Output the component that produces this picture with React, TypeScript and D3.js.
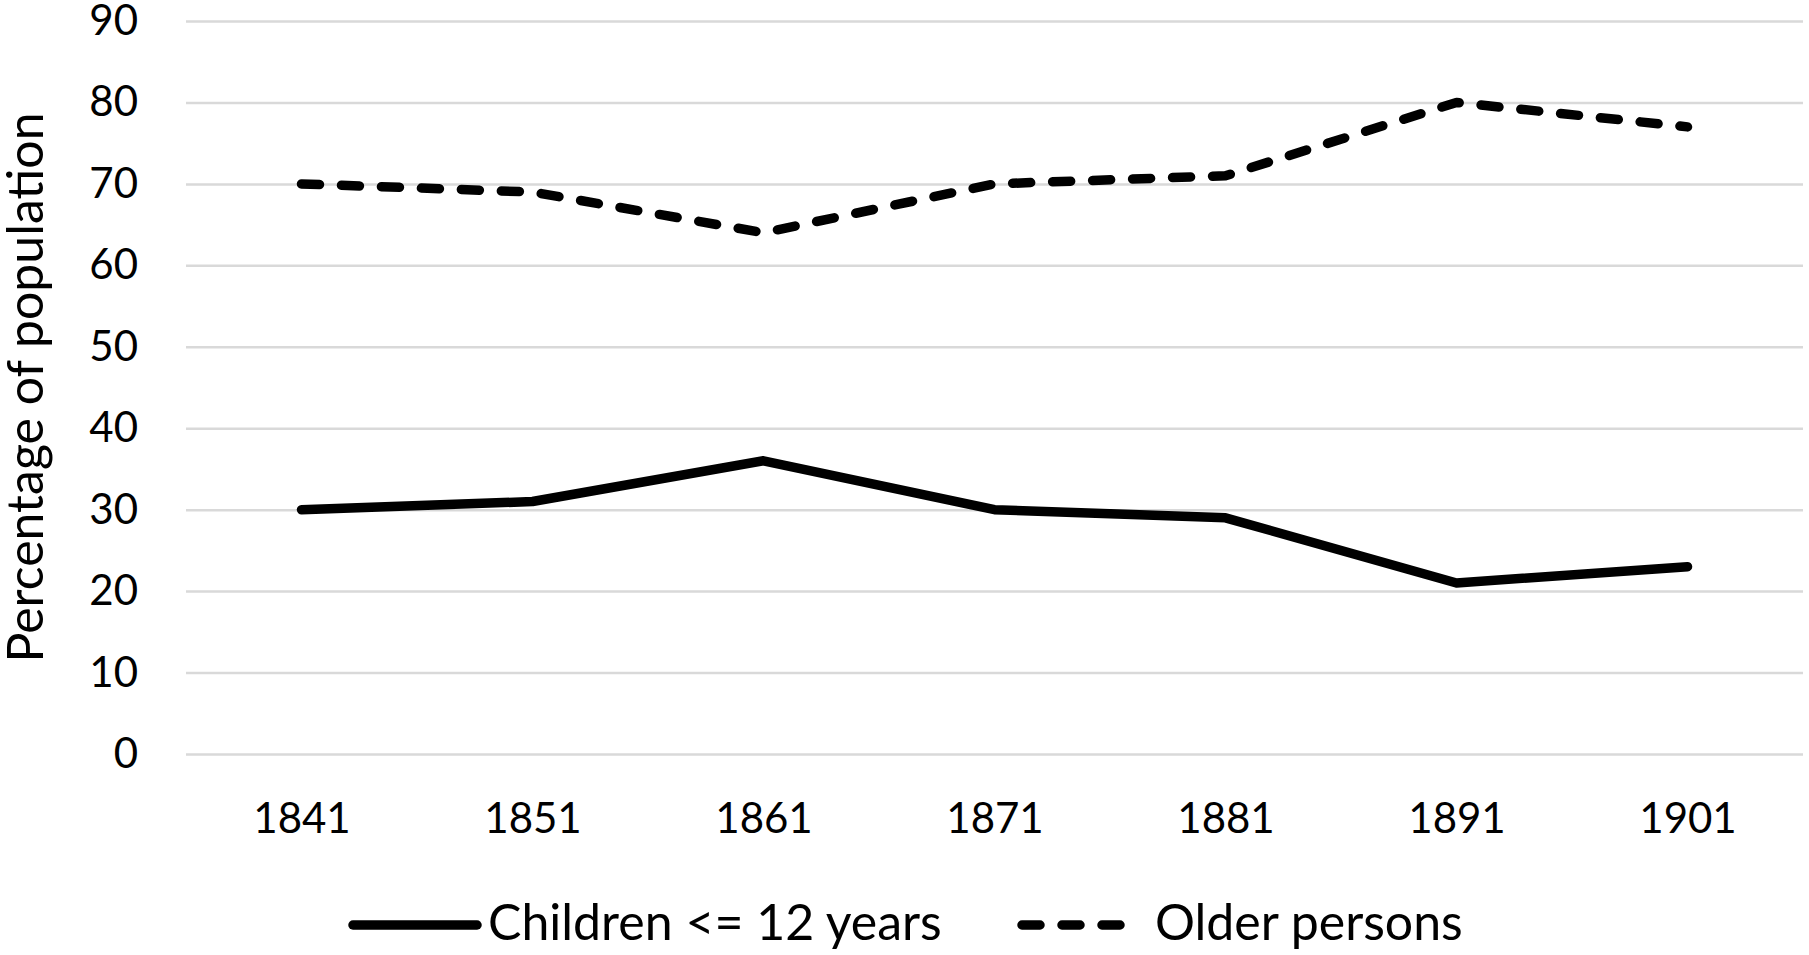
import React, { useRef, useEffect } from 'react'
import * as d3 from 'd3'

// Census years and shares of population (%)
const years = ['1841', '1851', '1861', '1871', '1881', '1891', '1901']
const children = [30, 31, 36, 30, 29, 21, 23]
const older = [70, 69, 64, 70, 71, 80, 77]
const yTicks = [0, 10, 20, 30, 40, 50, 60, 70, 80, 90]

const series = [
  { name: 'Children <= 12 years', values: children, dash: null as string | null },
  { name: 'Older persons', values: older, dash: '18 22' }
]

const W = 1809
const H = 955
const margin = { top: 21, right: 6, bottom: 201, left: 186 }
const FONT = 'Lato, "Open Sans", sans-serif'

export default function App() {
  const svgRef = useRef<SVGSVGElement>(null)

  useEffect(() => {
    if (!svgRef.current) return
    const svg = d3.select(svgRef.current)
    svg.selectAll('*').remove()

    const x = d3.scalePoint<string>()
      .domain(years)
      .range([margin.left, W - margin.right])
      .padding(0.5)

    const y = d3.scaleLinear()
      .domain([0, 90])
      .range([H - margin.bottom, margin.top])

    // ось Y и сетка
    const yAxis = svg.append('g')
      .attr('transform', `translate(${margin.left},0)`)
      .call(d3.axisLeft(y)
        .tickValues(yTicks)
        .tickSize(-(W - margin.left - margin.right))
        .tickPadding(48))
    yAxis.select('.domain').remove()
    yAxis.selectAll('line')
      .attr('stroke', '#d9d9d9')
      .attr('stroke-width', 2.5)
    yAxis.selectAll('text')
      .attr('fill', '#000')
      .style('font-family', FONT)
      .style('font-size', '42px')

    // подписи оси X
    const xAxis = svg.append('g')
      .attr('transform', `translate(0,${H - margin.bottom})`)
      .call(d3.axisBottom(x).tickSize(0))
    xAxis.select('.domain').remove()
    xAxis.selectAll('text')
      .attr('y', 79)
      .attr('dy', null)
      .attr('fill', '#000')
      .style('font-family', FONT)
      .style('font-size', '42px')

    // заголовок оси Y
    svg.append('text')
      .attr('transform', `translate(43,${(margin.top + H - margin.bottom) / 2}) rotate(-90)`)
      .attr('text-anchor', 'middle')
      .style('font-family', FONT)
      .style('font-size', '50px')
      .text('Percentage of population')

    // линии
    const line = d3.line<number>()
      .x((_, i) => x(years[i])!)
      .y(d => y(d))

    series.forEach(s => {
      svg.append('path')
        .datum(s.values)
        .attr('d', line)
        .attr('fill', 'none')
        .attr('stroke', '#000')
        .attr('stroke-width', 9.5)
        .attr('stroke-linecap', 'round')
        .attr('stroke-linejoin', 'round')
        .attr('stroke-dasharray', s.dash)
    })

    // легенда
    const legendY = 925
    const items = [
      { x0: 353, x1: 477, tx: 488 },
      { x0: 1022, x1: 1142, tx: 1155 }
    ]
    series.forEach((s, i) => {
      const it = items[i]
      svg.append('line')
        .attr('x1', it.x0).attr('x2', it.x1)
        .attr('y1', legendY).attr('y2', legendY)
        .attr('stroke', '#000')
        .attr('stroke-width', 9.5)
        .attr('stroke-linecap', 'round')
        .attr('stroke-dasharray', s.dash)
      svg.append('text')
        .attr('x', it.tx)
        .attr('y', 940)
        .style('font-family', FONT)
        .style('font-size', '50px')
        .text(s.name)
    })
  }, [])

  return (
    <svg
      ref={svgRef}
      width={W}
      height={H}
      style={{ position: 'absolute', left: 0, top: 0, background: '#fff' }}
    />
  )
}
